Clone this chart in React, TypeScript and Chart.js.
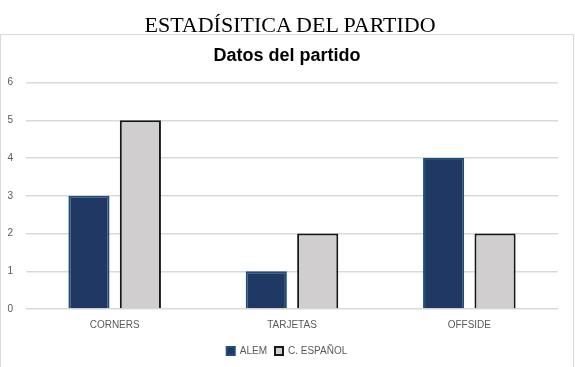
import React, { useEffect, useRef } from "react";
import { Chart, registerables } from "chart.js";

Chart.register(...registerables);

const categories = ["CORNERS", "TARJETAS", "OFFSIDE"];
const seriesNames = ["ALEM", "C. ESPAÑOL"];
const alemValues = [3, 1, 4];
const espValues = [5, 2, 2];
const yTicks = [0, 1, 2, 3, 4, 5, 6];

export default function App() {
  const ref = useRef<HTMLCanvasElement | null>(null);

  useEffect(() => {
    document.body.style.margin = "0";
    document.body.style.overflow = "hidden";
    const ctx = ref.current!;
    const chart = new Chart(ctx, {
      type: "bar",
      data: {
        labels: categories,
        datasets: [
          {
            label: seriesNames[0],
            data: alemValues,
            backgroundColor: "#203864",
            borderColor: "#1f4e79",
            borderWidth: 2,
            categoryPercentage: 0.58,
            barPercentage: 0.8,
          },
          {
            label: seriesNames[1],
            data: espValues,
            backgroundColor: "#d0cece",
            borderColor: "#171717",
            borderWidth: 2,
            categoryPercentage: 0.58,
            barPercentage: 0.8,
          },
        ],
      },
      options: {
        animation: false,
        responsive: false,
        maintainAspectRatio: false,
        layout: { padding: { left: 0, right: 0, top: 0, bottom: 2 } },
        plugins: {
          title: {
            display: true,
            text: "Datos del partido",
            color: "#000000",
            font: { family: "Liberation Sans", size: 18, weight: "bold" },
            padding: { top: 10, bottom: 16 },
          },
          legend: {
            position: "bottom",
            labels: {
              boxWidth: 8,
              boxHeight: 8,
              color: "#595959",
              font: { family: "Liberation Sans", size: 10 },
              padding: 8,
            },
          },
          tooltip: { enabled: false },
        },
        scales: {
          x: {
            grid: { display: false },
            border: { display: false },
            afterFit: (scale: any) => {
              scale.height += 5;
            },
            ticks: {
              color: "#595959",
              font: { family: "Liberation Sans", size: 10 },
              padding: 2,
            },
          },
          y: {
            min: 0,
            max: 6,
            afterFit: (scale: any) => {
              scale.width = 25;
            },
            afterBuildTicks: (scale: any) => {
              scale.ticks = yTicks.map((v) => ({ value: v }));
            },
            grid: { color: "#d9d9d9", lineWidth: 1.5, drawTicks: false },
            border: { display: false },
            ticks: {
              stepSize: 1,
              color: "#595959",
              font: { family: "Liberation Sans", size: 10 },
              padding: 13,
              align: "center",
            },
          },
          yRight: {
            type: "linear",
            position: "right",
            display: true,
            min: 0,
            max: 6,
            afterFit: (scale: any) => {
              scale.width = 15;
            },
            grid: { display: false, drawTicks: false },
            border: { display: false },
            ticks: { display: false },
          },
        },
      },
    });
    return () => chart.destroy();
  }, []);

  return (
    <div style={{ position: "absolute", left: 0, top: 0, width: 575, height: 367, overflow: "hidden", background: "#fff" }}>
      <div
        style={{
          position: "absolute",
          left: 0,
          top: 34,
          width: 572,
          height: 333,
          borderTop: "1px solid #d9d9d9",
          borderLeft: "1px solid #d9d9d9",
          borderRight: "1px solid #d9d9d9",
        }}
      >
        <canvas ref={ref} width={572} height={333} style={{ display: "block" }} />
      </div>
      <div
        style={{
          position: "absolute",
          left: 0,
          width: 580,
          top: 11,
          textAlign: "center",
          fontFamily: "'Liberation Serif', serif",
          fontSize: 22,
          lineHeight: "28px",
          color: "#000",
          whiteSpace: "nowrap",
        }}
      >
        ESTADÍSITICA DEL PARTIDO
      </div>
    </div>
  );
}
